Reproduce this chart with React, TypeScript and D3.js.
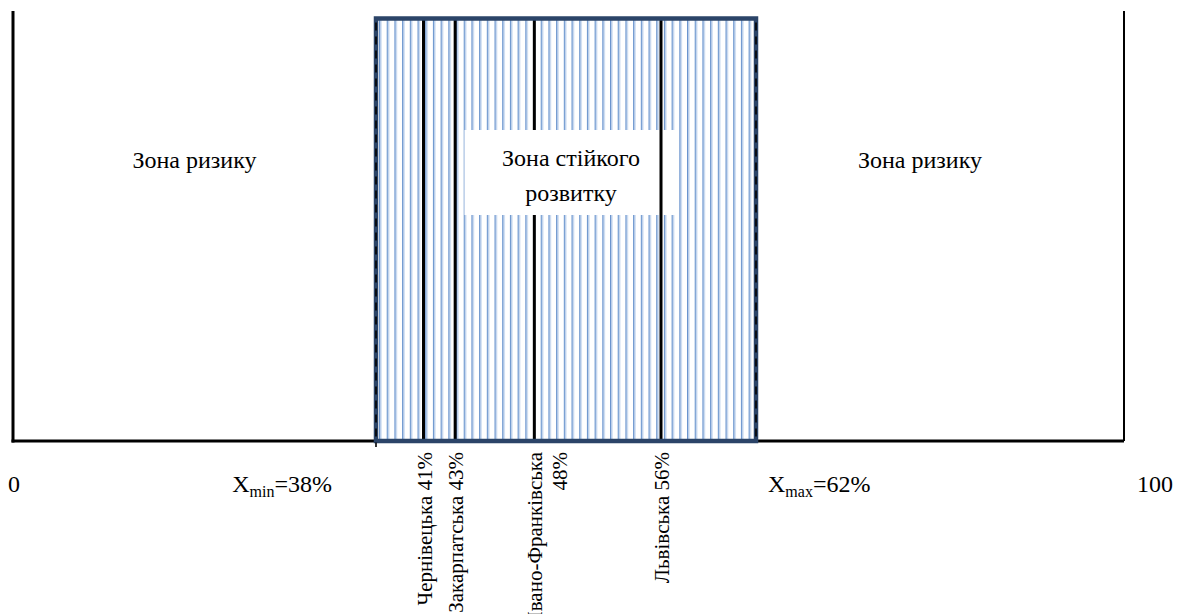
import React from 'react';
import * as d3 from 'd3';

// values
const regions = ['Чернівецька', 'Закарпатська', 'Івано-Франківська', 'Львівська'];
const regionValues = [41, 43, 48, 56];
const zoneBounds = [38, 62]; // Xmin, Xmax
const axisEnds = [0, 100];
const zoneLabels = ['Зона ризику', 'Зона стійкого розвитку', 'Зона ризику'];

const W = 1178;
const H = 614;
const FONT = 'Liberation Serif, DejaVu Serif, serif';

const App: React.FC = () => {
  const [xMin, xMax] = zoneBounds;
  const [x0, x100] = axisEnds;

  // the drawing is not to scale outside the zone, so the axis is split at Xmin / Xmax
  const x = d3.scaleLinear()
    .domain([x0, xMin, xMax, x100])
    .range([13, 376, 756, 1124]);

  const axisY = 441;
  const axisTop = 11;
  const zoneTop = 18.5;

  const zx0 = x(xMin);
  const zx1 = x(xMax);
  const zoneMid = (zx0 + zx1) / 2;

  const items = regions.map((name, i) => ({ name, value: regionValues[i] }));
  const under = items.filter(d => d.value < 50);
  const over = items.filter(d => d.value >= 50);

  const boxW = 213;
  const boxH = 85;
  const boxCx = zoneMid + 5;
  const boxTop = 130;

  const regionLine = (d: { name: string; value: number }) => (
    <line key={d.name} x1={x(d.value)} x2={x(d.value)} y1={zoneTop} y2={axisY}
      stroke="#000" strokeWidth={3} />
  );

  const labelLines = (d: { name: string; value: number }) =>
    d.name.length > 14 ? [d.name, `${d.value}%`] : [`${d.name} ${d.value}%`];

  const words = zoneLabels[1].split(' ');

  return (
    <svg width={W} height={H} style={{ position: 'absolute', left: 0, top: 0, fontFamily: FONT }}>
      <defs>
        <pattern id="stripes" patternUnits="userSpaceOnUse" x={zx0 + 3} y={0}
          width={7.7} height={10}>
          <rect x={0} y={0} width={1.1} height={10} fill="#6a94cd" />
          <rect x={1.1} y={0} width={1.3} height={10} fill="#aec6e7" />
        </pattern>
      </defs>
      <rect width={W} height={H} fill="#fff" />

      {/* frame */}
      <line x1={x(x0)} x2={x(x0)} y1={axisTop} y2={axisY + 1.5} stroke="#000" strokeWidth={3} />
      <line x1={x(x100)} x2={x(x100)} y1={axisTop} y2={axisY} stroke="#000" strokeWidth={2} />
      <line x1={x(x0) - 1.5} x2={x(x100)} y1={axisY} y2={axisY} stroke="#000" strokeWidth={3} />

      {/* zone of sustainable development */}
      <rect x={zx0} y={zoneTop} width={zx1 - zx0} height={axisY - zoneTop} fill="url(#stripes)" />
      {under.map(regionLine)}
      <rect x={boxCx - boxW / 2} y={boxTop} width={boxW} height={boxH} fill="#fff" />
      {over.map(regionLine)}
      <rect x={zx0} y={zoneTop} width={zx1 - zx0} height={axisY - zoneTop} fill="none"
        stroke="#2b4468" strokeWidth={4.5} />
      {[zx0, zx1].map((px, i) => (
        <line key={i} x1={px} x2={px} y1={zoneTop + 4} y2={i === 0 ? axisY + 6 : axisY - 2}
          stroke="#000" strokeWidth={1.6} strokeDasharray="8,6" />
      ))}

      {/* zone labels */}
      <text x={(x(x0) + zx0) / 2} y={168} textAnchor="middle" fontSize={24}>{zoneLabels[0]}</text>
      <text x={(zx1 + x(x100)) / 2 - 20} y={168} textAnchor="middle" fontSize={24}>{zoneLabels[2]}</text>
      <text textAnchor="middle" fontSize={24}>
        <tspan x={boxCx} y={166}>{words[0]} {words[1]}</tspan>
        <tspan x={boxCx} y={201}>{words[2]}</tspan>
      </text>

      {/* bottom labels */}
      <g fontSize={24}>
        <text x={x(x0) - 5} y={492}>{x0}</text>
        <text x={zx0 - 44} y={492} textAnchor="end">
          X<tspan fontSize={16} dy={5}>min</tspan><tspan dy={-5}>={xMin}%</tspan>
        </text>
        <text x={zx1 + 12} y={492}>
          X<tspan fontSize={16} dy={5}>max</tspan><tspan dy={-5}>={xMax}%</tspan>
        </text>
        <text x={x(x100) + 13} y={492}>{x100}</text>
      </g>

      {/* region labels, rotated */}
      {items.map(d => (
        <text key={d.name} transform={`translate(${x(d.value) + 8},452) rotate(-90)`}
          textAnchor="end" fontSize={21}>
          {labelLines(d).map((t, j) => (
            <tspan key={j} x={0} y={j * 25}>{t}</tspan>
          ))}
        </text>
      ))}
    </svg>
  );
};

export default App;
